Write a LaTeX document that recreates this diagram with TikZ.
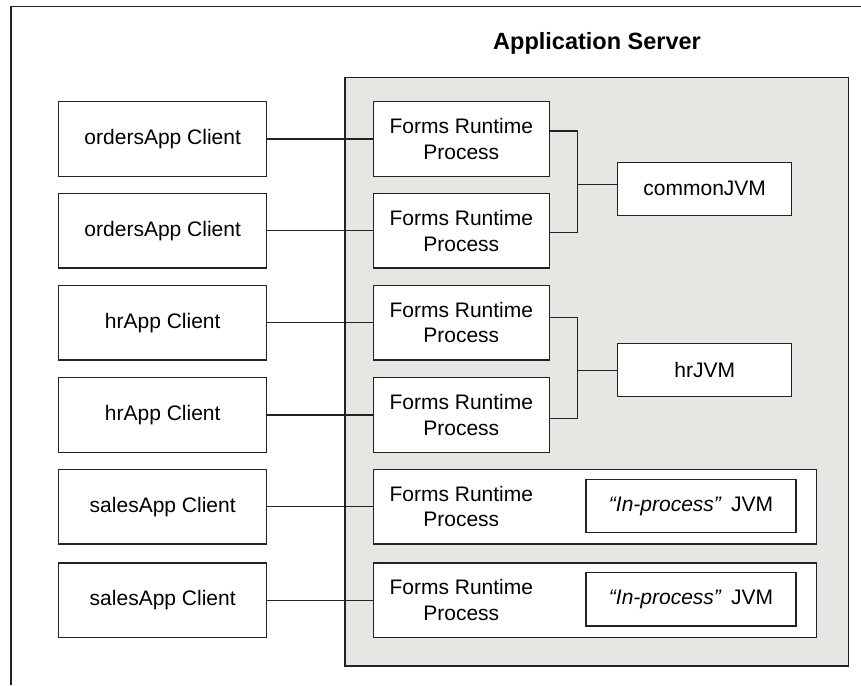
\documentclass[tikz,border=0pt]{standalone}
\usepackage{fontspec}
\setmainfont{Liberation Sans}
\definecolor{linec}{RGB}{34,34,34}
\definecolor{graybg}{RGB}{232,230,226}
\begin{document}
\begin{tikzpicture}[x=1pt,y=-1pt,
  box/.style={draw=linec, line width=1.3pt, fill=white, inner sep=0pt, align=center,
    font=\fontsize{21}{25.5}\selectfont},
  client/.style={box, minimum width=208pt, minimum height=74.5pt},
  forms/.style={box, minimum width=176pt, minimum height=74.5pt},
  jvm/.style={box, minimum width=174pt, minimum height=53pt},
  wide/.style={box, minimum width=443.4pt, minimum height=74.6pt},
  inner/.style={box, minimum width=210pt, minimum height=53.4pt},
  txt/.style={inner sep=0pt, align=center, font=\fontsize{21}{25.5}\selectfont},
  conn/.style={draw=linec, line width=1.2pt},
  server/.style={draw=linec, line width=1.3pt, fill=graybg, inner sep=0pt,
    minimum width=503.5pt, minimum height=588.3pt},
  frame/.style={draw=linec, line width=1.5pt}
]
\useasboundingbox (0,0) rectangle (861,685);
\fill[white] (0,0) rectangle (861,685);
\draw[frame] (861,6.5) -- (11,6.5) -- (11,685);
\node[inner sep=0pt, font=\fontsize{23.5}{28}\selectfont\bfseries] (title) at (597,43) {Application Server};
\node[server] (srv) at (596.75,371.85) {};
% clients
\node[client] (c1) at (162.7,139) {ordersApp Client};
\node[client] (c2) at (162.7,230.8) {ordersApp Client};
\node[client] (c3) at (162.7,322.7) {hrApp Client};
\node[client] (c4) at (162.7,415) {hrApp Client};
\node[client] (c5) at (162.7,506.7) {salesApp Client};
\node[client] (c6) at (162.7,600.2) {salesApp Client};
% forms processes
\node[forms] (f1) at (461.3,139) {Forms Runtime\\Process};
\node[forms] (f2) at (461.3,230.8) {Forms Runtime\\Process};
\node[forms] (f3) at (461.3,322.7) {Forms Runtime\\Process};
\node[forms] (f4) at (461.3,415) {Forms Runtime\\Process};
\node[wide] (f5) at (595,506.7) {};
\node[wide] (f6) at (595,600.2) {};
\node[txt] (t5) at (461.3,506.7) {Forms Runtime\\Process};
\node[txt] (t6) at (461.3,600.2) {Forms Runtime\\Process};
\node[inner] (i5) at (691,506) {\textit{“In-process”}\, JVM};
\node[inner] (i6) at (691,599.3) {\textit{“In-process”}\, JVM};
% JVMs
\node[jvm] (cj) at (704.7,188.8) {commonJVM};
\node[jvm] (hj) at (704.7,370) {hrJVM};
% connectors
\draw[conn] (c1.east) -- (f1.west);
\draw[conn] (c2.east) -- (f2.west);
\draw[conn] (c3.east) -- (f3.west);
\draw[conn] (c4.east) -- (f4.west);
\draw[conn] (c5.east) -- (f5.west);
\draw[conn] (c6.east) -- (f6.west);
\coordinate (bc) at (577.7,184.3);
\coordinate (bh) at (577.7,370.3);
\draw[conn] ([yshift=8pt]f1.east) -| (bc) |- ([yshift=-2pt]f2.east);
\draw[conn] (bc) -- (bc -| cj.west);
\draw[conn] ([yshift=5pt]f3.east) -| (bh) |- ([yshift=-3.3pt]f4.east);
\draw[conn] (bh) -- (bh -| hj.west);
\end{tikzpicture}
\end{document}
